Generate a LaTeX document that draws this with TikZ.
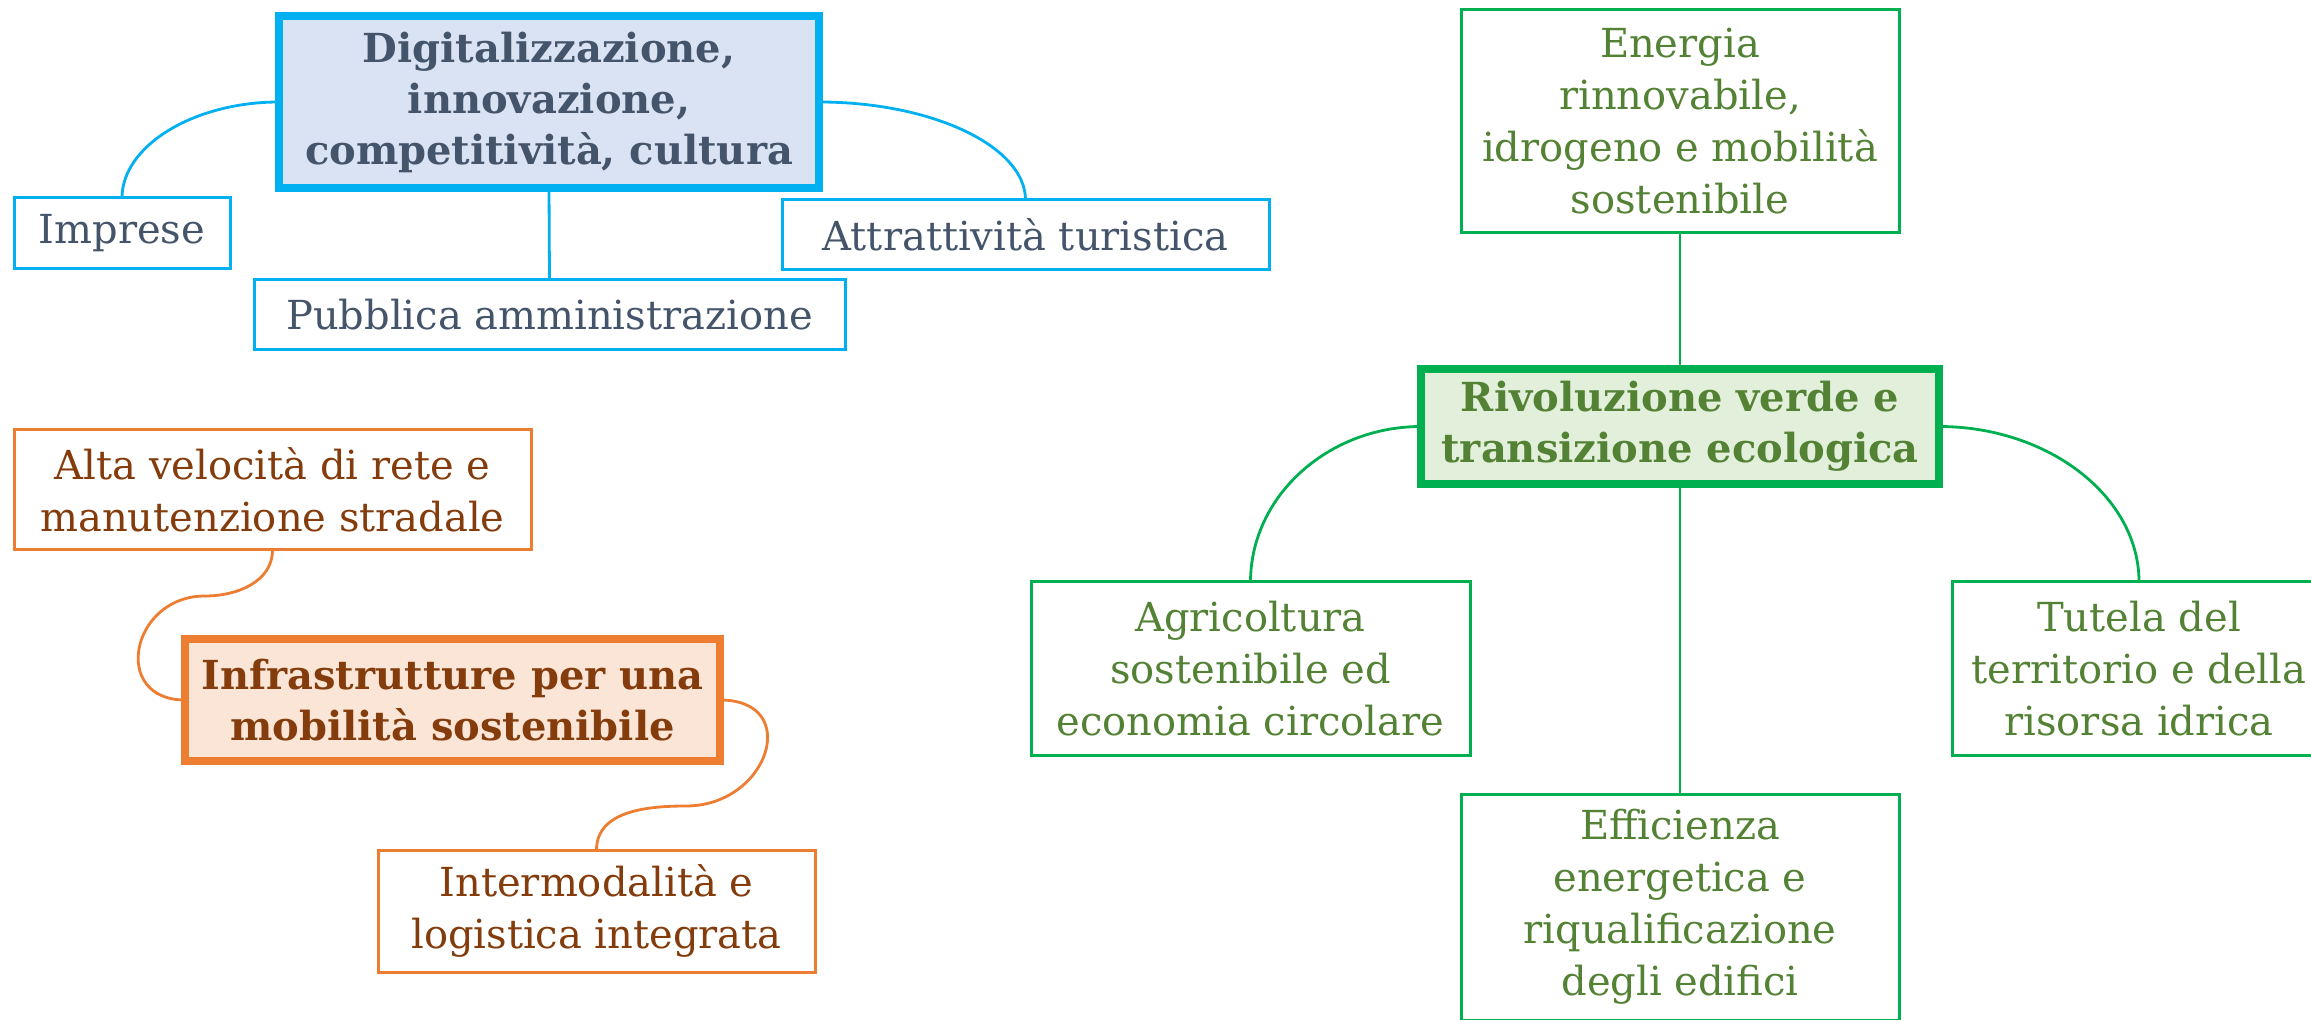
\documentclass[tikz,border=0pt]{standalone}
\usepackage{fontspec}
\setmainfont{DejaVu Serif}
\definecolor{bblue}{HTML}{00B0F0}
\definecolor{tblue}{HTML}{44546A}
\definecolor{fblue}{HTML}{DAE3F3}
\definecolor{borange}{HTML}{ED7D31}
\definecolor{torange}{HTML}{843C0C}
\definecolor{forange}{HTML}{FBE5D6}
\definecolor{bgreen}{HTML}{00B050}
\definecolor{tgreen}{HTML}{548235}
\definecolor{fgreen}{HTML}{E2EFDA}
\tikzset{
  leaf/.style={draw, line width=1.5pt, fill=white, inner sep=0pt, outer sep=0pt, align=center,
    font=\fontsize{20}{26}\selectfont},
  hub/.style={draw, line width=4pt, inner sep=0pt, outer sep=0pt, align=center,
    font=\fontsize{20}{25.5}\selectfont\bfseries},
  bl/.style={draw=bblue, text=tblue},
  bh/.style={draw=bblue, fill=fblue, text=tblue},
  ol/.style={draw=borange, text=torange},
  oh/.style={draw=borange, fill=forange, text=torange},
  gl/.style={draw=bgreen, text=tgreen},
  gh/.style={draw=bgreen, fill=fgreen, text=tgreen},
  bcon/.style={draw=bblue, line width=1.4pt},
  ocon/.style={draw=borange, line width=1.4pt},
  gcon/.style={draw=bgreen, line width=1.4pt},
}
\begin{document}
\begin{tikzpicture}[x=0.5pt, y=-0.5pt]
\useasboundingbox (0,0) rectangle (2311,1020);
\clip (0,0) rectangle (2311,1020);
% blue group
\node[hub, bh, minimum width=270pt, minimum height=86pt] (dig) at (549,102)
  {Digitalizzazione,\\innovazione,\\competitività, cultura};
\node[leaf, bl, minimum width=108pt, minimum height=35.5pt] (imp) at (122,233.5) {Imprese};
\node[leaf, bl, minimum width=295.5pt, minimum height=35pt] (pub) at (549.5,315) {Pubblica amministrazione};
\node[leaf, bl, minimum width=243.5pt, minimum height=35pt] (att) at (1025.5,235) {Attrattività turistica};
\draw[bcon] (dig.west) to[out=180,in=90,out distance=42.8pt,in distance=26pt] (imp.north);
\draw[bcon] (dig.east) to[out=0,in=90,out distance=56.6pt,in distance=26.8pt] (att.north);
\draw[bcon] (dig.south) -- (pub.north);
% orange group
\node[leaf, ol, minimum width=258.5pt, minimum height=60pt] (alta) at (272.5,490)
  {Alta velocità di rete e\\manutenzione stradale};
\node[hub, oh, minimum width=267.5pt, minimum height=61pt] (inf) at (452.5,700)
  {Infrastrutture per una\\mobilità sostenibile};
\node[leaf, ol, minimum width=218.5pt, minimum height=61pt] (int) at (596.5,911)
  {Intermodalità e\\logistica integrata};
\coordinate (a1) at (205,596);
\coordinate (b1) at (686,806);
\draw[ocon] (alta.south) to[out=-90,in=0] (a1) to[out=180,in=180,looseness=1.8] (inf.west);
\draw[ocon] (inf.east) to[out=0,in=0,looseness=1.9] (b1) to[out=180,in=90] (int.north);
% green group
\node[hub, gh, minimum width=259pt, minimum height=57.5pt] (riv) at (1680,426.5)
  {Rivoluzione verde e\\transizione ecologica};
\node[leaf, gl, minimum width=219pt, minimum height=111.5pt] (ene) at (1680,121.5)
  {Energia\\rinnovabile,\\idrogeno e mobilità\\sostenibile};
\node[leaf, gl, minimum width=219.5pt, minimum height=86.5pt] (agr) at (1250.5,668.5)
  {Agricoltura\\sostenibile ed\\economia circolare};
\node[leaf, gl, minimum width=187pt, minimum height=86.5pt] (tut) at (2139,668.5)
  {Tutela del\\territorio e della\\risorsa idrica};
\node[leaf, gl, minimum width=219pt, minimum height=113pt] (eff) at (1680,907)
  {Efficienza\\energetica e\\riqualificazione\\degli edifici};
\draw[gcon] (ene.south) -- (riv.north);
\draw[gcon] (riv.south) -- (eff.north);
\draw[gcon] (riv.west) to[out=180,in=90,out distance=46.6pt,in distance=42.8pt] (agr.north);
\draw[gcon] (riv.east) to[out=0,in=90,out distance=54.6pt,in distance=42.8pt] (tut.north);
\end{tikzpicture}
\end{document}
